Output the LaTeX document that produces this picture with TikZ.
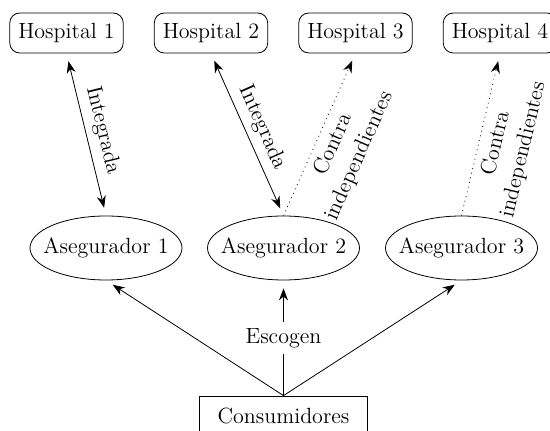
\documentclass[tikz,border=0pt]{standalone}
\usepackage{tikz}
\usetikzlibrary{arrows.meta,shapes.geometric}

\begin{document}
\begin{tikzpicture}[x=0.5pt,y=-0.5pt,
  every node/.style={font=\fontsize{11}{14}\selectfont},
  hospital/.style={draw,rounded corners=5pt,minimum height=20pt,inner xsep=4.25pt},
  asegurador/.style={draw,ellipse,inner xsep=-10pt,inner ysep=0pt,
    minimum width=76pt,minimum height=32pt},
  consumidor/.style={draw,minimum width=84pt,minimum height=20pt},
  flecha/.style={-{Stealth[length=6pt,width=4.5pt]},shorten >=4pt},
  doble/.style={{Stealth[length=6pt,width=4.5pt]}-{Stealth[length=6pt,width=4.5pt]},
    shorten <=4pt,shorten >=4pt},
  contrato/.style={dotted,-{Stealth[length=6pt,width=4.5pt]},shorten >=4pt}]
  \useasboundingbox (0,0) rectangle (550,431);

  \node[hospital] (h1) at (66.5,33) {Hospital 1};
  \node[hospital] (h2) at (211,33) {Hospital 2};
  \node[hospital] (h3) at (355.5,33) {Hospital 3};
  \node[hospital] (h4) at (500,33) {Hospital 4};

  \node[asegurador] (a1) at (106,248) {Asegurador 1};
  \node[asegurador] (a2) at (283.5,248) {Asegurador 2};
  \node[asegurador] (a3) at (461.5,248) {Asegurador 3};

  \node[consumidor] (c) at (283.5,416) {Consumidores};

  % contratos
  \draw[doble] (h1.south) -- node[midway,above,sloped] {Integrada} (a1.north);
  \draw[doble] (h2.south) -- node[midway,above,sloped] {Integrada} (a2.north);
  \draw[contrato] (a2.north) -- node[pos=0.48,below,sloped,align=center]
    {Contra\\independientes} (h3.south);
  \draw[contrato] (a3.north) -- node[pos=0.47,below,sloped,align=center]
    {Contra\\independientes} (h4.south);

  % eleccion
  \draw[flecha] (c.north) -- (a1.south);
  \draw[flecha] (c.north) -- node[fill=white] {Escogen} (a2.south);
  \draw[flecha] (c.north) -- (a3.south);
\end{tikzpicture}
\end{document}
